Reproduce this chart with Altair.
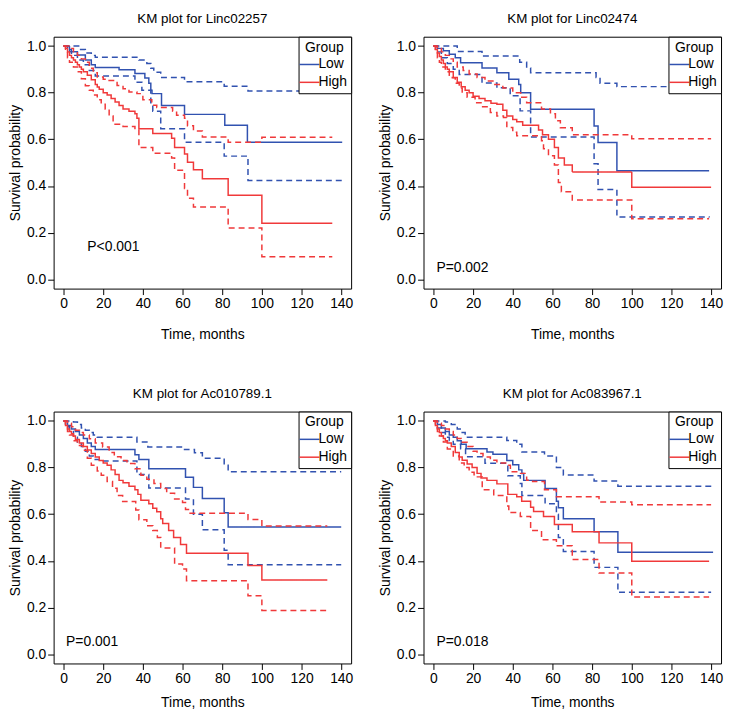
import altair as alt
import pandas as pd

BLUE = "#3152b0"
RED = "#f0393a"
FONT = "Liberation Sans"

X_TICKS = [0, 20, 40, 60, 80, 100, 120, 140]
Y_TICKS = [0.0, 0.2, 0.4, 0.6, 0.8, 1.0]

TITLES = ["KM plot for Linc02257", "KM plot for Linc02474",
          "KM plot for Ac010789.1", "KM plot for Ac083967.1"]
P_TEXT = ["P<0.001", "P=0.002", "P=0.001", "P=0.018"]
P_POS = [(12, 0.14), (1.5, 0.05), (1.3, 0.052), (1.5, 0.051)]

# ---- Panel 1: Linc02257 (time, survival) ----
p1_low_est = [(0, 1.0), (3, 0.976), (7, 0.962), (11, 0.94), (14, 0.92), (16, 0.908), (28, 0.898),
              (36, 0.882), (41, 0.863), (43, 0.84), (44, 0.81), (44.6, 0.796), (49.4, 0.745),
              (61, 0.707), (81.3, 0.66), (92.7, 0.587), (140.5, 0.587)]
p1_low_up = [(0, 1.0), (6, 1.0), (8, 0.985), (11, 0.97), (14, 0.96), (16, 0.952), (38, 0.94),
             (42, 0.925), (44, 0.905), (45.5, 0.888), (49, 0.865), (61, 0.847), (81, 0.828),
             (93, 0.807), (140.5, 0.807)]
p1_low_lo = [(0, 1.0), (2, 0.985), (4, 0.96), (7, 0.94), (10, 0.92), (13, 0.895), (16, 0.872),
             (36, 0.845), (39.5, 0.81), (44, 0.757), (45, 0.72), (49, 0.645), (61, 0.588),
             (81, 0.528), (93, 0.424), (140.5, 0.424)]
p1_high_est = [(0, 1.0), (1, 0.99), (2, 0.975), (3, 0.96), (4, 0.95), (5, 0.94), (6, 0.93), (7, 0.92),
               (8, 0.91), (9, 0.90), (10, 0.89), (12, 0.875), (14, 0.855), (16, 0.835), (17, 0.824),
               (18, 0.815), (20, 0.80), (22, 0.79), (24, 0.775), (26, 0.76), (28, 0.745), (30, 0.73),
               (33, 0.72), (36, 0.71), (37, 0.69), (38, 0.645), (45, 0.625), (54.5, 0.605),
               (56, 0.565), (61, 0.537), (62.5, 0.502), (65.5, 0.47), (70, 0.431), (83, 0.36),
               (100, 0.24), (135.5, 0.24)]
p1_high_up = [(0, 1.0), (3, 0.99), (5, 0.975), (7, 0.96), (9, 0.945), (11, 0.93), (13, 0.905),
              (15, 0.885), (17, 0.867), (20, 0.858), (22, 0.852), (27, 0.831), (30, 0.817),
              (33, 0.803), (37, 0.796), (40, 0.77), (44.5, 0.746), (47, 0.737), (55, 0.72),
              (57, 0.703), (61, 0.69), (62.5, 0.658), (65.5, 0.636), (70, 0.61), (83, 0.588),
              (100, 0.609), (135.5, 0.609)]
p1_high_lo = [(0, 1.0), (1, 0.975), (2, 0.95), (3, 0.93), (5, 0.91), (7, 0.89), (9, 0.86), (11, 0.83),
              (13, 0.81), (15, 0.79), (17, 0.77), (19, 0.75), (21, 0.73), (23, 0.70), (25, 0.665),
              (30, 0.655), (36, 0.64), (38, 0.565), (45, 0.54), (54.5, 0.52), (56, 0.467),
              (61, 0.389), (62.5, 0.347), (65.5, 0.31), (83, 0.22), (100, 0.097), (135.5, 0.097)]

# ---- Panel 2: Linc02474 ----
p2_low_est = [(0, 1.0), (2, 0.99), (5, 0.98), (8, 0.965), (11, 0.95), (13.7, 0.928), (24.5, 0.906),
              (32, 0.885), (38, 0.858), (43, 0.835), (44, 0.80), (49, 0.729), (81, 0.657),
              (83, 0.586), (92.5, 0.465), (139, 0.465)]
p2_low_up = [(0, 1.0), (10, 1.0), (12, 0.977), (24.5, 0.957), (43.5, 0.93), (47, 0.906),
             (49, 0.885), (82, 0.865), (84, 0.84), (92.5, 0.826), (139, 0.826)]
p2_low_lo = [(0, 1.0), (2, 0.975), (4, 0.95), (7, 0.925), (10, 0.9), (13, 0.878), (24.5, 0.842),
             (32, 0.821), (38.7, 0.787), (43.7, 0.722), (49, 0.61), (81, 0.495), (83, 0.385),
             (92.5, 0.267), (139, 0.265)]
p2_high_est = [(0, 1.0), (1, 0.985), (2, 0.97), (3, 0.955), (4, 0.94), (5, 0.925), (6, 0.91),
               (7, 0.9), (8, 0.89), (10, 0.865), (12, 0.845), (14, 0.825), (16, 0.81), (18, 0.8),
               (20, 0.785), (23, 0.775), (26, 0.765), (29, 0.755), (32, 0.75), (35, 0.725),
               (37, 0.70), (40, 0.685), (42, 0.675), (45, 0.66), (53, 0.64), (55, 0.62), (58, 0.6),
               (61, 0.565), (63, 0.52), (66, 0.49), (70, 0.46), (100, 0.395), (140, 0.395)]
p2_high_up = [(0, 1.0), (2, 0.99), (4, 0.975), (6, 0.96), (8, 0.945), (10, 0.93), (12, 0.91),
              (15, 0.895), (18, 0.88), (22, 0.865), (26, 0.85), (30, 0.835), (35, 0.82), (40, 0.8),
              (44, 0.78), (47, 0.757), (54.5, 0.73), (59, 0.71), (61.5, 0.68), (64, 0.65),
              (70, 0.62), (100, 0.603), (140, 0.603)]
p2_high_lo = [(0, 1.0), (1, 0.975), (2, 0.95), (3, 0.93), (4, 0.91), (6, 0.89), (8, 0.875),
              (9.5, 0.864), (11, 0.84), (13, 0.82), (14.5, 0.80), (17, 0.78), (21, 0.757),
              (24, 0.74), (28.7, 0.715), (32, 0.70), (35.3, 0.694), (37, 0.651), (40, 0.63),
              (42, 0.615), (54.5, 0.594), (55.5, 0.56), (58, 0.53), (61, 0.49), (63, 0.415),
              (64.5, 0.375), (70, 0.34), (100, 0.26), (139, 0.26)]

# ---- Panel 3: Ac010789.1 ----
p3_low_est = [(0, 1.0), (2, 0.98), (4, 0.965), (6, 0.955), (8, 0.94), (10, 0.925), (12, 0.905),
              (14, 0.89), (16, 0.877), (36, 0.855), (38, 0.835), (43, 0.795), (61.5, 0.758),
              (65.5, 0.715), (70, 0.667), (81, 0.606), (83, 0.545), (140, 0.545)]
p3_low_up = [(0, 1.0), (5, 0.995), (7, 0.985), (9, 0.97), (11, 0.96), (13, 0.95), (15, 0.94),
             (17, 0.93), (37, 0.91), (42.5, 0.888), (61, 0.877), (66, 0.863), (70, 0.84),
             (81, 0.81), (83, 0.782), (140, 0.782)]
p3_low_lo = [(0, 1.0), (1, 0.975), (3, 0.955), (5, 0.93), (7, 0.91), (9, 0.89), (11, 0.87),
             (13, 0.85), (15, 0.835), (18, 0.828), (37, 0.77), (43, 0.712), (61.5, 0.665),
             (65.5, 0.6), (70, 0.533), (81, 0.445), (83, 0.383), (140, 0.383)]
p3_high_est = [(0, 1.0), (1, 0.98), (2, 0.965), (3, 0.955), (4, 0.945), (5, 0.935), (6, 0.92),
               (8, 0.905), (10, 0.89), (12, 0.875), (14, 0.86), (16, 0.845), (18, 0.83), (20, 0.82),
               (22, 0.81), (24, 0.79), (26, 0.77), (28, 0.745), (30, 0.735), (33, 0.72),
               (36, 0.705), (37.5, 0.685), (39, 0.66), (43, 0.645), (45, 0.625), (47, 0.61),
               (49, 0.58), (50, 0.56), (53, 0.53), (55.5, 0.50), (59, 0.47), (62, 0.433),
               (93, 0.38), (100, 0.318), (133, 0.318)]
p3_high_up = [(0, 1.0), (2, 0.99), (4, 0.975), (6, 0.96), (8, 0.95), (10, 0.94), (13, 0.923),
              (16, 0.905), (19.7, 0.888), (23, 0.865), (25.6, 0.846), (29, 0.83), (32, 0.817),
              (36, 0.795), (39, 0.767), (42, 0.75), (45.6, 0.732), (49, 0.71), (52, 0.69),
              (56, 0.665), (60, 0.65), (61.5, 0.62), (63, 0.604), (93, 0.577), (100, 0.549),
              (133, 0.549)]
p3_high_lo = [(0, 1.0), (1, 0.975), (2, 0.955), (3, 0.94), (5, 0.915), (7, 0.895), (9.7, 0.874),
              (12, 0.84), (14, 0.81), (17, 0.785), (19, 0.767), (22, 0.74), (24.7, 0.711),
              (27, 0.68), (29.8, 0.654), (36.4, 0.618), (38, 0.576), (42, 0.55), (45, 0.53),
              (47.3, 0.5), (49, 0.455), (56, 0.386), (60, 0.365), (62, 0.315), (93, 0.25),
              (100, 0.187), (133, 0.187)]

# ---- Panel 4: Ac083967.1 ----
p4_low_est = [(0, 1.0), (2, 0.985), (4, 0.97), (6, 0.955), (8, 0.94), (10, 0.93), (12, 0.915),
              (14, 0.9), (16.5, 0.881), (27, 0.867), (30, 0.857), (37, 0.83), (40, 0.812),
              (43, 0.79), (44.6, 0.774), (45.5, 0.745), (56.3, 0.71), (62, 0.655), (63, 0.628),
              (65.5, 0.58), (81, 0.525), (93, 0.437), (141, 0.437)]
p4_low_up = [(0, 1.0), (6, 0.995), (9, 0.985), (12, 0.965), (14, 0.95), (16, 0.93), (37, 0.916),
             (42, 0.9), (44.6, 0.867), (56, 0.85), (62, 0.8), (65.5, 0.768), (81, 0.742),
             (93, 0.72), (141, 0.72)]
p4_low_lo = [(0, 1.0), (2, 0.97), (4, 0.95), (6, 0.93), (8, 0.915), (10, 0.9), (13.7, 0.881),
             (16.2, 0.846), (26, 0.818), (37.5, 0.765), (43.8, 0.732), (44.6, 0.68), (56.3, 0.645),
             (62, 0.6), (63, 0.5), (65.5, 0.44), (81, 0.372), (93, 0.265), (140, 0.265)]
p4_high_est = [(0, 1.0), (1, 0.98), (2, 0.965), (3, 0.95), (4, 0.935), (5, 0.925), (6, 0.915),
               (7, 0.905), (9, 0.89), (11, 0.865), (13, 0.845), (14.5, 0.831), (17, 0.815),
               (19.5, 0.8), (22, 0.775), (24, 0.755), (27, 0.745), (32, 0.73), (37.5, 0.685),
               (42, 0.675), (44.5, 0.655), (49, 0.63), (50.5, 0.612), (55.5, 0.59), (61, 0.556),
               (70, 0.525), (83.5, 0.477), (100, 0.398), (139, 0.398)]
p4_high_up = [(0, 1.0), (2, 0.99), (4, 0.98), (6, 0.965), (8, 0.955), (10, 0.94), (12, 0.925),
              (14, 0.908), (17, 0.89), (20, 0.87), (22, 0.86), (25, 0.845), (28.7, 0.831),
              (32, 0.82), (37, 0.81), (38.8, 0.782), (43, 0.775), (47, 0.746), (50, 0.74),
              (56, 0.705), (62, 0.675), (83.5, 0.652), (100, 0.64), (140, 0.64)]
p4_high_lo = [(0, 1.0), (1, 0.975), (2, 0.955), (3, 0.935), (5, 0.91), (7, 0.88), (10, 0.85),
              (13, 0.82), (15.5, 0.80), (18, 0.78), (20.5, 0.76), (24.6, 0.705), (30.4, 0.68),
              (37, 0.635), (38, 0.607), (43.8, 0.59), (49, 0.53), (54.5, 0.49), (62, 0.465),
              (70, 0.406), (83.5, 0.348), (100, 0.245), (139, 0.245)]

PANELS = [
    [p1_low_est, p1_low_up, p1_low_lo, p1_high_est, p1_high_up, p1_high_lo],
    [p2_low_est, p2_low_up, p2_low_lo, p2_high_est, p2_high_up, p2_high_lo],
    [p3_low_est, p3_low_up, p3_low_lo, p3_high_est, p3_high_up, p3_high_lo],
    [p4_low_est, p4_low_up, p4_low_lo, p4_high_est, p4_high_up, p4_high_lo],
]
SERIES_META = [("Low", "est"), ("Low", "upper"), ("Low", "lower"),
               ("High", "est"), ("High", "upper"), ("High", "lower")]


def make_panel(i, x_title_pad):
    rows = []
    for (group, kind), pts in zip(SERIES_META, PANELS[i]):
        for t, s in pts:
            rows.append({"t": t, "s": s, "group": group,
                         "style": "est" if kind == "est" else "ci",
                         "series": f"{group}-{kind}"})
    df = pd.DataFrame(rows)

    x = alt.X("t:Q", scale=alt.Scale(domain=[-5, 145], nice=False, zero=False),
              axis=alt.Axis(values=X_TICKS, title="Time, months", titlePadding=x_title_pad))
    y = alt.Y("s:Q", scale=alt.Scale(domain=[-0.04, 1.04], nice=False, zero=False),
              axis=alt.Axis(values=Y_TICKS, format=".1f", title="Survival probability",
                            titlePadding=4))

    lines = alt.Chart(df).mark_line(interpolate="step-after", strokeWidth=1.5).encode(
        x=x, y=y,
        color=alt.Color("group:N", scale=alt.Scale(domain=["Low", "High"], range=[BLUE, RED]),
                        legend=alt.Legend(title="Group", orient="top-right", offset=0,
                                          titleAnchor="middle", strokeColor="black",
                                          fillColor="white", padding=4,
                                          symbolType="M-2,0H2", symbolStrokeWidth=1.5,
                                          symbolSize=100, labelFontSize=14, titleFontSize=14,
                                          titleFontWeight="normal", titleFont=FONT,
                                          labelFont=FONT, rowPadding=4, titlePadding=3,
                                          labelOffset=2, labelColor="black", titleColor="black")),
        strokeDash=alt.StrokeDash("style:N",
                                  scale=alt.Scale(domain=["est", "ci"], range=[[1, 0], [6, 4]]),
                                  legend=None),
        detail="series:N",
        order=alt.Order("t:Q"),
    )

    pdf = pd.DataFrame({"t": [P_POS[i][0]], "s": [P_POS[i][1]], "label": [P_TEXT[i]]})
    ptext = alt.Chart(pdf).mark_text(align="left", baseline="middle", fontSize=14,
                                     font=FONT, color="black").encode(
        x=alt.X("t:Q"), y=alt.Y("s:Q"), text="label:N")

    return alt.layer(lines, ptext).properties(
        width=300, height=254,
        title=alt.TitleParams(TITLES[i], fontSize=13.5, fontWeight="normal", font=FONT,
                              offset=11, color="black"),
    )


row1 = alt.hconcat(make_panel(0, 17), make_panel(1, 17), spacing=24).resolve_scale(
    color="independent", strokeDash="independent")
row2 = alt.hconcat(make_panel(2, 10), make_panel(3, 10), spacing=24).resolve_scale(
    color="independent", strokeDash="independent")

chart = alt.vconcat(row1, row2, spacing=44).resolve_scale(
    color="independent", strokeDash="independent"
).properties(padding=0).configure_view(
    stroke="black", strokeWidth=1
).configure_axis(
    grid=False, domain=False, tickColor="black", tickSize=6, labelColor="black",
    titleColor="black", labelFont=FONT, titleFont=FONT, labelFontSize=14,
    titleFontSize=14, titleFontWeight="normal", labelPadding=2
).configure_axisY(labelAngle=0)

chart.save("out.html", embed_options={"renderer": "svg", "actions": False})
